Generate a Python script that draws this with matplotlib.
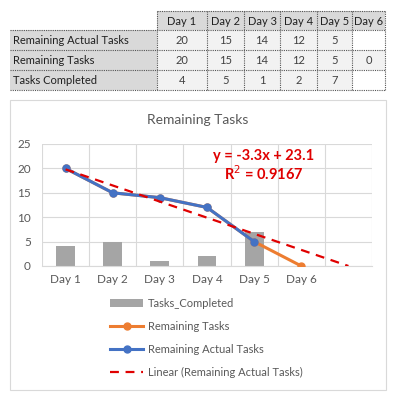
import numpy as np
import matplotlib.pyplot as plt
from matplotlib.patches import Rectangle

plt.rcParams['font.family'] = ['Lato', 'DejaVu Sans']

# Data
days = ['Day 1', 'Day 2', 'Day 3', 'Day 4', 'Day 5', 'Day 6']
remaining_actual = [20, 15, 14, 12, 5]
remaining_tasks = [20, 15, 14, 12, 5, 0]
tasks_completed = [4, 5, 1, 2, 7]
row_labels = ['Remaining Actual Tasks', 'Remaining Tasks', 'Tasks Completed']

W, H = 395, 397
fig = plt.figure(figsize=(W / 100, H / 100), dpi=100)

# background axes in pixel coordinates for the table and chart frame
bg = fig.add_axes([0, 0, 1, 1])
bg.set_xlim(0, W)
bg.set_ylim(H, 0)
bg.axis('off')

col_edges = [157, 207, 244, 280, 317, 352, 385]
row_edges = [11, 30, 50, 70, 90]
label_left = 10
dot = dict(color='#555555', lw=0.8, ls=(0, (1, 1)))

# header cells
for c in range(6):
    bg.add_patch(Rectangle((col_edges[c], row_edges[0]), col_edges[c + 1] - col_edges[c],
                           row_edges[1] - row_edges[0], color='#d9d9d9', lw=0))
    bg.text((col_edges[c] + col_edges[c + 1]) / 2, (row_edges[0] + row_edges[1]) / 2 + 1,
            days[c], ha='center', va='center', fontsize=8, color='#202020')

table_rows = [remaining_actual, remaining_tasks, tasks_completed]
for r, vals in enumerate(table_rows):
    y0, y1 = row_edges[r + 1], row_edges[r + 2]
    bg.add_patch(Rectangle((label_left, y0), col_edges[0] - label_left, y1 - y0,
                           color='#d9d9d9', lw=0))
    bg.text(label_left + 3, (y0 + y1) / 2 + 1, row_labels[r], ha='left', va='center',
            fontsize=8, color='#202020')
    for c in range(len(vals)):
        bg.add_patch(Rectangle((col_edges[c], y0), col_edges[c + 1] - col_edges[c], y1 - y0,
                               color='#f2f2f2', lw=0))
        bg.text((col_edges[c] + col_edges[c + 1]) / 2, (y0 + y1) / 2 + 1, str(vals[c]),
                ha='center', va='center', fontsize=8, color='#404040')

# dotted grid of the table
bg.plot([col_edges[0], col_edges[-1]], [row_edges[0]] * 2, **dot)
for y in row_edges[1:]:
    bg.plot([label_left, col_edges[-1]], [y, y], **dot)
for x in col_edges:
    bg.plot([x, x], [row_edges[0], row_edges[-1]], **dot)

# chart frame
bg.add_patch(Rectangle((10, 100), 376, 290, fill=False, ec='#d9d9d9', lw=0.8))
bg.text(198, 120, 'Remaining Tasks', ha='center', va='center', fontsize=10, color='#595959')

# plot area
ax = fig.add_axes([42 / W, (H - 266) / H, (372 - 42) / W, (266 - 144) / H])
x = np.arange(len(days))
ax.bar(x[:len(tasks_completed)], tasks_completed, width=0.4, color='#a5a5a5', zorder=2,
       label='Tasks_Completed')
ax.plot(x, remaining_tasks, color='#ed7d31', lw=2.2, marker='o', ms=5, zorder=3,
        label='Remaining Tasks')
ax.plot(x[:len(remaining_actual)], remaining_actual, color='#4472c4', lw=2.2, marker='o',
        ms=5, zorder=4, label='Remaining Actual Tasks')

# linear trendline with one period forecast
xi = np.arange(1, len(remaining_actual) + 1)
slope, intercept = np.polyfit(xi, remaining_actual, 1)
xt = np.arange(1, len(days) + 2)
ax.plot(xt - 1, slope * xt + intercept, color='#e00000', lw=1.6, ls=(0, (4, 3)), zorder=5,
        label='Linear (Remaining Actual Tasks)')

ax.text(4.2, 22.6, 'y = -3.3x + 23.1', color='#e00000', fontsize=10.5, fontweight='bold',
        ha='center', va='center')
ax.text(4.2, 18.9, 'R$^2$ = 0.9167', color='#e00000', fontsize=10.5, fontweight='bold',
        ha='center', va='center')

ax.set_xlim(-0.5, 6.5)
ax.set_ylim(0, 25)
ax.set_yticks(range(0, 26, 5))
ax.set_xticks(x)
ax.set_xticklabels(days)
ax.set_xticks(np.arange(-0.5, 7, 1), minor=True)
ax.grid(axis='y', color='#d9d9d9', lw=0.8, zorder=0)
ax.grid(axis='x', which='minor', color='#d9d9d9', lw=0.8, zorder=0)
ax.tick_params(which='both', length=0, colors='#595959', labelsize=8.5)
ax.tick_params(axis='y', pad=8)
ax.tick_params(axis='x', pad=6)
for s in ['top', 'right', 'left']:
    ax.spines[s].set_visible(False)
ax.spines['bottom'].set_color('#d9d9d9')

handles, labels = ax.get_legend_handles_labels()
order = [labels.index(l) for l in ['Tasks_Completed', 'Remaining Tasks',
                                   'Remaining Actual Tasks', 'Linear (Remaining Actual Tasks)']]
leg = fig.legend([handles[i] for i in order], [labels[i] for i in order],
                 loc='upper left', bbox_to_anchor=(100 / W, (H - 288) / H),
                 frameon=False, fontsize=8, labelcolor='#595959',
                 handlelength=3.0, handletextpad=0.4, labelspacing=1.08)

fig.savefig('out.png', dpi=100)
